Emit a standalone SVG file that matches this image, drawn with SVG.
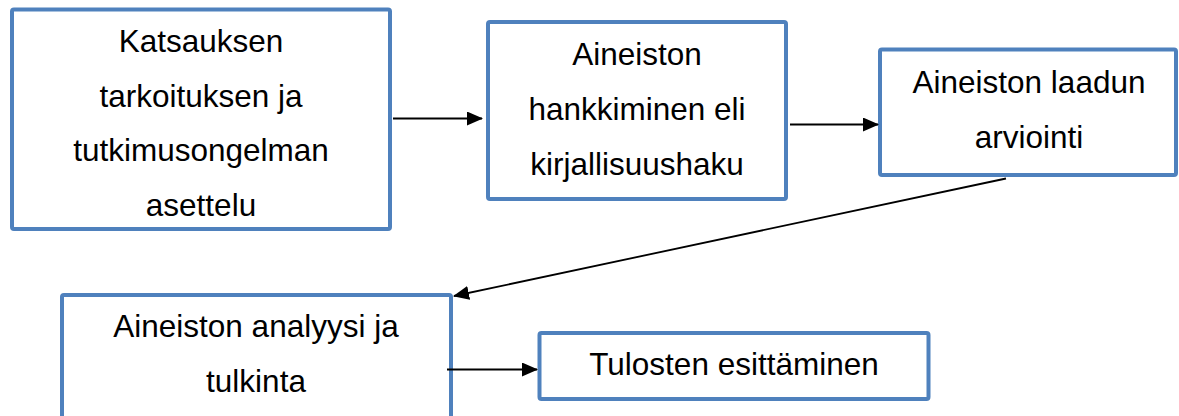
<svg xmlns="http://www.w3.org/2000/svg" width="1179" height="416" viewBox="0 0 1179 416">
<style>
.box{fill:#fff;stroke:#4F81BD;stroke-width:4}
.t{font-family:"Liberation Sans",Arial,sans-serif;font-size:31.5px;fill:#000;text-anchor:middle}
.c{stroke:#000;stroke-width:1.8;fill:none;marker-end:url(#ah)}
</style>
<defs>
<marker id="ah" markerUnits="userSpaceOnUse" markerWidth="16" markerHeight="14" refX="15" refY="7" orient="auto">
<path d="M0,0 L16,7 L0,14 Z" fill="#000"/>
</marker>
</defs>
<rect width="1179" height="416" fill="#fff"/>
<g id="n1"><rect class="box" x="12" y="9.5" width="378" height="219.5" rx="2"/>
<text class="t" x="201" y="52">Katsauksen</text>
<text class="t" x="201" y="106.5">tarkoituksen ja</text>
<text class="t" x="201" y="161">tutkimusongelman</text>
<text class="t" x="201" y="215.5">asettelu</text></g>
<g id="n2"><rect class="box" x="488" y="22" width="298" height="177" rx="2"/>
<text class="t" x="637" y="65">Aineiston</text>
<text class="t" x="637" y="120">hankkiminen eli</text>
<text class="t" x="637" y="175">kirjallisuushaku</text></g>
<g id="n3"><rect class="box" x="880" y="49.5" width="296" height="125.5" rx="2"/>
<text class="t" x="1029" y="92.5">Aineiston laadun</text>
<text class="t" x="1029" y="147.5">arviointi</text></g>
<g id="n4"><rect class="box" x="62" y="295" width="389" height="130" rx="2"/>
<text class="t" x="256" y="337">Aineiston analyysi ja</text>
<text class="t" x="256" y="392">tulkinta</text></g>
<g id="n5"><rect class="box" x="539.5" y="333" width="389" height="66" rx="2"/>
<text class="t" x="734" y="374.5">Tulosten esittäminen</text></g>
<g id="connectors">
<line class="c" x1="393" y1="118.5" x2="482" y2="118.5"/>
<line class="c" x1="790" y1="124.5" x2="878" y2="124.5"/>
<line class="c" x1="1006" y1="178.5" x2="454" y2="296"/>
<line class="c" x1="447" y1="369.5" x2="537" y2="369.5"/>
</g>
</svg>
